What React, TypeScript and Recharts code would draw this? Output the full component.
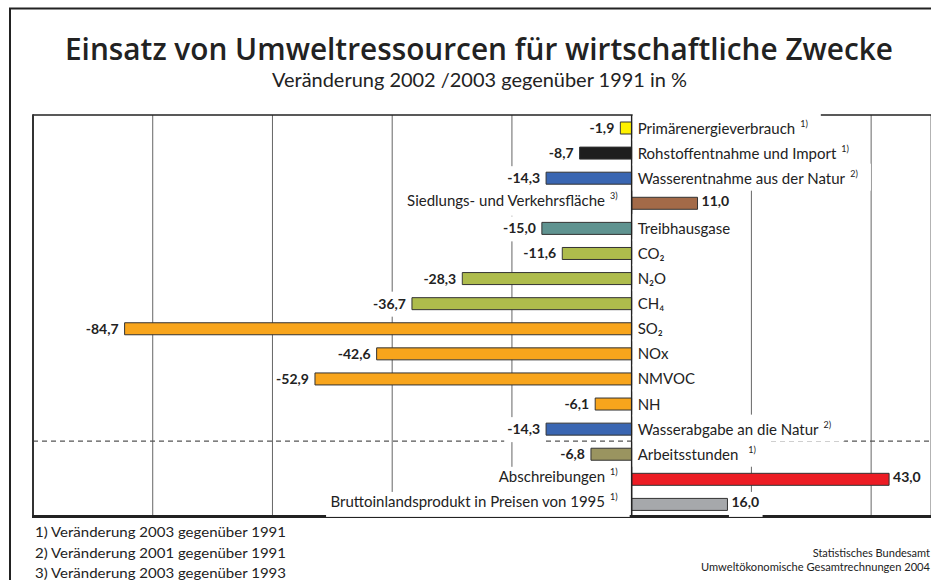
import React from 'react';
import { BarChart, Bar, XAxis, YAxis, CartesianGrid, ReferenceLine, ReferenceArea, LabelList, Cell } from 'recharts';

const categories = [
  'Primärenergieverbrauch',
  'Rohstoffentnahme und Import',
  'Wasserentnahme aus der Natur',
  'Siedlungs- und Verkehrsfläche',
  'Treibhausgase',
  'CO₂',
  'N₂O',
  'CH₄',
  'SO₂',
  'NOx',
  'NMVOC',
  'NH',
  'Wasserabgabe an die Natur',
  'Arbeitsstunden',
  'Abschreibungen',
  'Bruttoinlandsprodukt in Preisen von 1995',
];
const values = [-1.9, -8.7, -14.3, 11.0, -15.0, -11.6, -28.3, -36.7, -84.7, -42.6, -52.9, -6.1, -14.3, -6.8, 43.0, 16.0];
const notes = ['1)', '1)', '2)', '3)', '', '', '', '', '', '', '', '', '2)', '1)', '1)', '1)'];
const colors = [
  '#FFF200', '#1E1E1E', '#3A66B2', '#A36A48', '#5F9390', '#AEBC4C', '#AEBC4C', '#AEBC4C',
  '#F8A51C', '#F8A51C', '#F8A51C', '#F8A51C', '#3A66B2', '#9A9460', '#EC1C24', '#A6A8AB',
];
const xDomain = [-100, 50];
const gridTicks = [-80, -60, -40, -20, 0, 20, 40];
const separatorFrom = 'Arbeitsstunden';
const footnotes = [
  '1) Veränderung 2003 gegenüber 1991',
  '2) Veränderung 2001 gegenüber 1991',
  '3) Veränderung 2003 gegenüber 1993',
];
const title = 'Einsatz von Umweltressourcen für wirtschaftliche Zwecke';
const subtitle = 'Veränderung 2002 /2003 gegenüber 1991 in %';
const sourceLines = ['Statistisches Bundesamt', 'Umweltökonomische Gesamtrechnungen 2004'];

const data = categories.map((name, i) => ({ name, value: values[i], note: notes[i], row: i }));

const FONT = 'Lato, "Noto Sans", sans-serif';
const TITLE_FONT = '"Open Sans", Lato, sans-serif';
const TEXT = '#222';
const BOX = '#fff';

let ctx: CanvasRenderingContext2D | null = null;
function measure(text: string, font: string): number {
  if (!text) return 0;
  if (!ctx) ctx = document.createElement('canvas').getContext('2d');
  if (!ctx) return text.length * 7;
  ctx.font = font;
  return ctx.measureText(text).width;
}

const fmt = (v: number) => v.toFixed(1).replace('.', ',');

const renderLabel = (props: any) => {
  const vb = props.viewBox && props.viewBox.width !== undefined ? props.viewBox : props;
  const x = Number(vb.x);
  const y = Number(vb.y);
  const w = Number(vb.width);
  const h = Number(vb.height);
  const d = data[Number(props.value)];
  if (!d) return null;
  const left = Math.min(x, x + w);
  const right = Math.max(x, x + w);
  const cy = y + h / 2;
  const neg = d.value < 0;
  const zero = neg ? right : left;
  const end = neg ? left : right;
  const valStr = fmt(d.value);
  const vw = measure(valStr, `bold 14px ${FONT}`);
  const nw = measure(d.name, `15px ${FONT}`);
  const sw = measure(d.note, `9px ${FONT}`);
  const els: React.ReactNode[] = [];
  if (neg) {
    const tx = end - 6;
    els.push(<rect key="vb" x={tx - vw - 3} y={cy - 12} width={vw + 3 + 5} height={25} fill={BOX} />);
    els.push(
      <text key="vt" x={tx} y={cy + 5} textAnchor="end" fontFamily={FONT} fontSize={14} fontWeight="bold" fill={TEXT}>
        {valStr}
      </text>
    );
  } else {
    const tx = end + 4;
    els.push(<rect key="vb" x={end + 1.5} y={cy - 12.5} width={vw + 6} height={25} fill={BOX} />);
    els.push(
      <text key="vt" x={tx} y={cy + 3} textAnchor="start" fontFamily={FONT} fontSize={14} fontWeight="bold" fill={TEXT}>
        {valStr}
      </text>
    );
  }
  if (neg) {
    const sx = zero + 6;
    const gap = d.note ? (nw < 110 ? 10 : 5) : 0;
    const total = nw + (d.note ? gap + sw : 0);
    els.push(<rect key="cb" x={zero + 1} y={cy - 14.5} width={total + 18} height={27} fill={BOX} />);
    els.push(
      <text key="ct" x={sx} y={cy + 5.5} fontFamily={FONT} fontSize={15} fill={TEXT}>
        {d.name}
      </text>
    );
    if (d.note)
      els.push(
        <text key="cn" x={sx + nw + gap} y={cy - 1} fontFamily={FONT} fontSize={9} fill={TEXT}>
          {d.note}
        </text>
      );
  } else {
    const noteEnd = zero - 14;
    const nameEnd = d.note ? noteEnd - sw - 5 : noteEnd;
    els.push(<rect key="cb" x={nameEnd - nw - 4} y={cy - 12.5} width={zero - 2 - (nameEnd - nw - 4)} height={25} fill={BOX} />);
    els.push(
      <text key="ct" x={nameEnd} y={cy + 2.5} textAnchor="end" fontFamily={FONT} fontSize={15} fill={TEXT}>
        {d.name}
      </text>
    );
    if (d.note)
      els.push(
        <text key="cn" x={noteEnd} y={cy - 4} textAnchor="end" fontFamily={FONT} fontSize={9} fill={TEXT}>
          {d.note}
        </text>
      );
  }
  return <g>{els}</g>;
};

const FrameShape = (p: any) => {
  const x = Number(p.x);
  const y = Number(p.y);
  const w = Number(p.width);
  const h = Number(p.height);
  return (
    <g>
      <line x1={x} y1={y - 0.75} x2={x} y2={y + h} stroke="#333" strokeWidth={2} />
      <line x1={x - 1} y1={y + h} x2={x + w} y2={y + h} stroke="#222" strokeWidth={3} />
    </g>
  );
};

const topEdgeGen = (args: any) => (args && args.offset ? [args.offset.top] : []);

const separatorGen = (args: any) => {
  const s = args && args.yAxis ? args.yAxis.scale : undefined;
  let v: any;
  if (typeof s === 'function') v = s(separatorFrom);
  else if (s && typeof s.map === 'function') v = s.map(separatorFrom);
  return v == null || isNaN(Number(v)) ? [] : [Number(v)];
};

export default function App() {
  return (
    <div style={{ position: 'relative', width: 931, height: 580, overflow: 'hidden', background: '#fff' }}>
      <style>{`body{margin:0;}`}</style>
      <svg width={931} height={580} style={{ position: 'absolute', left: 0, top: 0 }}>
        <path d="M10,581 V8.5 H931" fill="none" stroke="#222" strokeWidth={2} />
        <text x={479} y={60} textAnchor="middle" fontFamily={TITLE_FONT} fontSize={30} fontWeight={600} fill={TEXT} textLength={828} lengthAdjust="spacingAndGlyphs">
          {title}
        </text>
        <text x={479.5} y={87} textAnchor="middle" fontFamily={FONT} fontSize={19.5} fill={TEXT} textLength={415} lengthAdjust="spacingAndGlyphs">
          {subtitle}
        </text>
        {footnotes.map((t, i) => (
          <text key={t} x={35} y={537 + i * 20.5} fontFamily={FONT} fontSize={14} fill={TEXT} textLength={251} lengthAdjust="spacingAndGlyphs">
            {t}
          </text>
        ))}
        <text x={930} y={557} textAnchor="end" fontFamily={FONT} fontSize={11} fill={TEXT}>
          {sourceLines[0]}
        </text>
        <text x={930} y={571} textAnchor="end" fontFamily={FONT} fontSize={11} fill={TEXT} textLength={229} lengthAdjust="spacingAndGlyphs">
          {sourceLines[1]}
        </text>
      </svg>
      <div style={{ position: 'absolute', left: 0, top: 0 }}>
        <BarChart
          width={931}
          height={580}
          data={data}
          layout="vertical"
          margin={{ top: 115, bottom: 63.5, left: 33, right: 0 }}
          barCategoryGap={0}
        >
          <CartesianGrid horizontal={false} stroke="#666" strokeWidth={1} />
          <CartesianGrid vertical={false} horizontalCoordinatesGenerator={topEdgeGen} stroke="#222" strokeWidth={1.5} />
          <CartesianGrid vertical={false} horizontalCoordinatesGenerator={separatorGen} stroke="#555" strokeWidth={1.2} strokeDasharray="5 4" />
          <XAxis type="number" domain={xDomain} ticks={gridTicks} hide allowDataOverflow />
          <YAxis type="category" dataKey="name" hide />
          <ReferenceArea x1={xDomain[0]} x2={xDomain[1]} shape={FrameShape} ifOverflow="visible" />
          <ReferenceLine x={0} stroke="#222" strokeWidth={1.5} />
          <Bar dataKey="value" barSize={12} stroke="#333" strokeWidth={1} isAnimationActive={false}>
            {data.map((d, i) => (
              <Cell key={d.name} fill={colors[i]} />
            ))}
            <LabelList dataKey="row" content={renderLabel} />
          </Bar>
        </BarChart>
      </div>
    </div>
  );
}
